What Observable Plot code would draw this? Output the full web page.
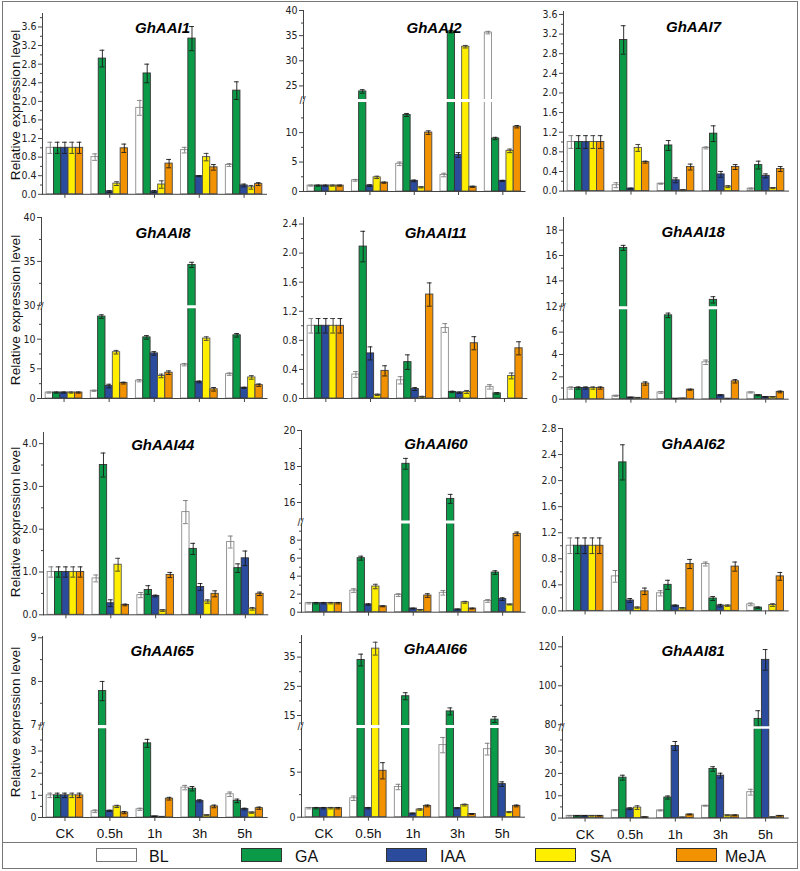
<!DOCTYPE html>
<html>
<head>
<meta charset="utf-8">
<script src="https://cdn.jsdelivr.net/npm/d3@7"></script>
<script src="https://cdn.jsdelivr.net/npm/@observablehq/plot@0.6"></script>
<style>
html, body { margin: 0; padding: 0; background: #fff; }
#fig { position: relative; width: 800px; height: 871px; overflow: hidden; background: #fff; font-family: "Liberation Sans", Arial, sans-serif; }
.panel { position: absolute; }
.panel svg { overflow: visible; }
#overlay { position: absolute; left: 0; top: 0; pointer-events: none; }
</style>
</head>
<body>
<div id="fig"></div>
<script>
// ---------------- data ----------------
const groups = ["CK", "0.5h", "1h", "3h", "5h"];
const treatments = ["BL", "GA", "IAA", "SA", "MeJA"];
const yLabel = "Relative expression level";

// mean[groupIndex] = [BL, GA, IAA, SA, MeJA]
const aai1Mean = [[1,1,1,1,1],[0.80,2.92,0.06,0.23,0.99],[1.86,2.60,0.06,0.21,0.66],[0.95,3.35,0.39,0.80,0.58],[0.63,2.23,0.19,0.15,0.22]];
const aai1Err  = [[0.12,0.12,0.12,0.12,0.12],[0.07,0.18,0.02,0.04,0.09],[0.16,0.20,0.02,0.08,0.09],[0.06,0.26,0.01,0.08,0.06],[0.03,0.19,0.03,0.04,0.03]];
const aai1Major = [0,0.4,0.8,1.2,1.6,2.0,2.4,2.8,3.2,3.6];
const aai1Minor = [0.2,0.6,1.0,1.4,1.8,2.2,2.6,3.0,3.4,3.8];

const aai2Mean = [[1,1,1,1,1],[1.9,23.9,1.0,2.4,1.5],[4.7,13.0,1.8,0.7,10.0],[2.8,35.8,6.2,32.8,0.8],[35.6,9.0,1.8,6.9,11.0]];
const aai2Err  = [[0.1,0.1,0.1,0.1,0.1],[0.15,0.35,0.15,0.2,0.1],[0.3,0.25,0.15,0.1,0.3],[0.3,0.25,0.4,0.25,0.1],[0.25,0.2,0.1,0.3,0.2]];
const aai2Major = [0,5,10,25,30,35,40];
const aai2Minor = [2.5,7.5,12.5,27.5,32.5,37.5];

const aai7Mean = [[1,1,1,1,1],[0.12,3.08,0.05,0.88,0.59],[0.15,0.93,0.22,0.02,0.49],[0.88,1.17,0.34,0.09,0.49],[0.05,0.53,0.31,0.06,0.45]];
const aai7Err  = [[0.13,0.13,0.13,0.13,0.13],[0.05,0.29,0.01,0.07,0.02],[0.01,0.10,0.05,0.01,0.06],[0.02,0.16,0.06,0.02,0.05],[0.01,0.08,0.04,0.01,0.05]];
const aai7Major = [0,0.4,0.8,1.2,1.6,2.0,2.4,2.8,3.2,3.6];
const aai7Minor = [0.2,0.6,1.0,1.4,1.8,2.2,2.6,3.0,3.4];

const aai8Mean = [[1,1,1,1,1],[1.3,13.8,2.1,7.8,2.6],[3.0,10.3,7.6,3.8,4.35],[5.7,34.6,2.8,10.1,1.55],[4.1,10.65,1.8,3.55,2.25]];
const aai8Err  = [[0.1,0.1,0.1,0.1,0.1],[0.1,0.3,0.3,0.3,0.15],[0.2,0.3,0.3,0.3,0.3],[0.2,0.3,0.15,0.3,0.3],[0.2,0.3,0.1,0.3,0.2]];
const aai8Major = [0,5,10,30,35,40];
const aai8Minor = [2.5,7.5,12.5,32.5,37.5];

const aai11Mean = [[1,1,1,1,1],[0.33,2.09,0.62,0.05,0.38],[0.25,0.50,0.13,0.02,1.43],[0.97,0.09,0.08,0.09,0.76],[0.16,0.07,0,0.31,0.69]];
const aai11Err  = [[0.1,0.1,0.1,0.1,0.1],[0.04,0.21,0.09,0.01,0.07],[0.05,0.10,0.02,0.01,0.16],[0.06,0.01,0.01,0.02,0.09],[0.03,0.01,0,0.04,0.09]];
const aai11Major = [0,0.4,0.8,1.2,1.6,2.0,2.4];
const aai11Minor = [0.2,0.6,1.0,1.4,1.8,2.2];

const aai18Mean = [[1,1,1,1,1],[0.3,16.6,0.15,0.12,1.4],[0.6,7.5,0.05,0.07,0.85],[3.3,12.5,0.35,0.05,1.6],[0.6,0.35,0.2,0.2,0.65]];
const aai18Err  = [[0.1,0.1,0.1,0.1,0.1],[0.05,0.2,0.02,0.02,0.15],[0.08,0.2,0.01,0.01,0.05],[0.2,0.25,0.05,0.01,0.15],[0.05,0.05,0.03,0.02,0.08]];
const aai18Major = [0,2,4,6,12,14,16,18];
const aai18Minor = [1,3,5,7,13,15,17];

const aai44Mean = [[1,1,1,1,1],[0.85,3.5,0.27,1.17,0.23],[0.46,0.58,0.44,0.1,0.93],[2.4,1.54,0.65,0.31,0.49],[1.7,1.09,1.32,0.14,0.49]];
const aai44Err  = [[0.12,0.12,0.12,0.12,0.12],[0.08,0.28,0.08,0.15,0.02],[0.06,0.1,0.02,0.02,0.06],[0.27,0.13,0.08,0.04,0.07],[0.14,0.1,0.17,0.03,0.04]];
const aai44Major = [0,1,2,3,4];
const aai44Minor = [0.5,1.5,2.5,3.5];

const aai60Mean = [[1,1,1,1,1],[2.4,6.0,0.85,2.85,0.65],[1.9,18.15,0.4,0.25,1.85],[2.15,16.2,0.3,1.1,0.4],[1.25,4.4,1.45,0.85,8.7]];
const aai60Err  = [[0.08,0.08,0.08,0.08,0.08],[0.2,0.22,0.08,0.25,0.05],[0.15,0.3,0.05,0.03,0.2],[0.25,0.25,0.05,0.1,0.05],[0.15,0.2,0.15,0.05,0.2]];
const aai60Major = [0,2,4,6,8,16,18,20];
const aai60Minor = [1,3,5,7,9,17,19];

const aai62Mean = [[1,1,1,1,1],[0.53,2.28,0.16,0.05,0.30],[0.27,0.40,0.08,0.04,0.72],[0.72,0.19,0.08,0.08,0.68],[0.10,0.05,0,0.09,0.53]];
const aai62Err  = [[0.12,0.12,0.12,0.12,0.12],[0.09,0.27,0.03,0.01,0.05],[0.04,0.07,0.01,0.01,0.07],[0.03,0.03,0.02,0.01,0.07],[0.02,0.01,0,0.02,0.06]];
const aai62Major = [0,0.4,0.8,1.2,1.6,2.0,2.4,2.8];
const aai62Minor = [0.2,0.6,1.0,1.4,1.8,2.2,2.6];

const aai65Mean = [[1,1,1,1,1],[0.28,7.78,0.3,0.5,0.22],[0.37,3.35,0.05,0.03,0.85],[1.35,1.3,0.75,0.1,0.5],[1.05,0.75,0.38,0.22,0.42]];
const aai65Err  = [[0.1,0.1,0.1,0.1,0.1],[0.06,0.22,0.03,0.05,0.05],[0.05,0.18,0.01,0.01,0.06],[0.1,0.1,0.05,0.02,0.06],[0.1,0.08,0.04,0.03,0.05]];
const aai65Major = [0,1,2,3,7,8,9];
const aai65Minor = [0.5,1.5,2.5,3.5,7.5,8.5];

const aai66Mean = [[1,1,1,1,1],[2.1,34.0,1.0,37.9,5.15],[3.35,21.6,0.4,0.85,1.25],[8.0,16.4,1.0,1.35,0.35],[7.55,13.6,3.67,0.55,1.25]];
const aai66Err  = [[0.08,0.08,0.08,0.08,0.08],[0.25,2.0,0.08,2.2,0.9],[0.3,1.2,0.05,0.08,0.1],[0.85,1.2,0.05,0.1,0.05],[0.65,1.0,0.25,0.05,0.1]];
const aai66Major = [0,5,15,25,35];
const aai66Minor = [2.5,7.5,20,30,40];

const aai81Mean = [[1,1,1,1,1],[3.5,18.1,4.2,4.7,0.4],[3.4,9.2,32.3,0.3,1.6],[5.5,22.0,19.0,1.2,1.2],[11.6,83.0,113.3,0.4,1.0]];
const aai81Err  = [[0.1,0.1,0.1,0.1,0.1],[0.2,1.1,0.4,0.8,0.1],[0.2,0.7,2.0,0.1,0.2],[0.2,1.0,1.1,0.2,0.2],[1.3,4.2,5.3,0.1,0.1]];
const aai81Major = [0,10,20,30,80,100,120];
const aai81Minor = [5,15,25,35,90,110];

// ---------------- style / layout ----------------
const fills   = ["#ffffff", "#0b9a47", "#2b4c9c", "#ffee00", "#f39200"];
const strokes = ["#8c8c8c", "#333333", "#333333", "#555555", "#444444"];
const ebStroke = ["#777777", "#1a1a1a", "#1a1a1a", "#333333", "#1a1a1a"];
const axisColor = "#444";
const narrow = "'Liberation Sans Narrow', 'Arial Narrow', 'DejaVu Sans Condensed', sans-serif";
const regular = "'Liberation Sans', Arial, sans-serif";

const panels = [
  {title:"GhAAI1",  mean:aai1Mean,  err:aai1Err,  major:aai1Major,  minor:aai1Minor,  fmt:".1f", ax:42,    right:266, dom:[0,3.89], pix:[193.3,12.5], tx:162, ty:21.5},
  {title:"GhAAI2",  mean:aai2Mean,  err:aai2Err,  major:aai2Major,  minor:aai2Minor,  fmt:"d",   ax:302.5, right:524, dom:[0,15.2,22.4,40], pix:[191,101.5,98.5,10], tx:433, ty:21.5},
  {title:"GhAAI7",  mean:aai7Mean,  err:aai7Err,  major:aai7Major,  minor:aai7Minor,  fmt:".1f", ax:563,   right:788, dom:[0,3.66], pix:[191,11.4], tx:693, ty:21.5},
  {title:"GhAAI8",  mean:aai8Mean,  err:aai8Err,  major:aai8Major,  minor:aai8Minor,  fmt:"d",   ax:40.5,  right:266, dom:[0,15.2,30,40], pix:[397.7,307.5,304.5,216.7], tx:162, ty:226.5},
  {title:"GhAAI11", mean:aai11Mean, err:aai11Err, major:aai11Major, minor:aai11Minor, fmt:".1f", ax:302.7, right:526, dom:[0,2.49], pix:[397.7,216.7], tx:435, ty:226.5},
  {title:"GhAAI18", mean:aai18Mean, err:aai18Err, major:aai18Major, minor:aai18Minor, fmt:"d",   ax:563.3, right:788, dom:[0,8.05,12,19], pix:[399,309,306,217.3], tx:693, ty:226.5},
  {title:"GhAAI44", mean:aai44Mean, err:aai44Err, major:aai44Major, minor:aai44Minor, fmt:".1f", ax:42.7,  right:267, dom:[0,4.26], pix:[614,431.7], tx:162, ty:439},
  {title:"GhAAI60", mean:aai60Mean, err:aai60Err, major:aai60Major, minor:aai60Minor, fmt:"d",   ax:300.5, right:524, dom:[0,9.85,15,20], pix:[611.7,523,520,430], tx:435, ty:437.5},
  {title:"GhAAI62", mean:aai62Mean, err:aai62Err, major:aai62Major, minor:aai62Minor, fmt:".1f", ax:562.3, right:788, dom:[0,2.8], pix:[610.7,428.3], tx:693, ty:438.5},
  {title:"GhAAI65", mean:aai65Mean, err:aai65Err, major:aai65Major, minor:aai65Minor, fmt:"d",   ax:42.3,  right:267, dom:[0,4.03,7,9.03], pix:[816.7,727.5,724.3,635.7], tx:162, ty:644.5, bottom:true},
  {title:"GhAAI66", mean:aai66Mean, err:aai66Err, major:aai66Major, minor:aai66Minor, fmt:"d",   ax:301,   right:524, dom:[0,9.9,11.75,42.4], pix:[816.7,727.5,724.5,635], tx:435, ty:642.5, bottom:true},
  {title:"GhAAI81", mean:aai81Mean, err:aai81Err, major:aai81Major, minor:aai81Minor, fmt:"d",   ax:562.3, right:788, dom:[0,40,79.2,125.3], pix:[817.3,728,725.5,635.7], tx:693, ty:644.5, bottom:true}
];

const fig = document.getElementById("fig");

function addPanel(p) {
  const mL = 40, mR = 6, mT = 12, mB = p.bottom ? 30 : 9;
  const top = p.pix[p.pix.length - 1], base = p.pix[0];
  const svgLeft = p.ax - mL, svgTop = top - mT;
  const W = p.right - p.ax + mL + mR;
  const H = base - top + mT + mB;
  const rows = [];
  groups.forEach((g, gi) => treatments.forEach((t, ti) =>
    rows.push({group: g, treatment: t, ti, value: p.mean[gi][ti], err: p.err[gi][ti]})));
  const pInner = 0.185, pOuter = 0.0925;
  const band = d3.scaleBand(groups, [0, p.right - p.ax]).paddingInner(pInner).paddingOuter(pOuter);
  const bw = band.bandwidth(), w = bw / 5, cap = 2.4;
  const marks = [];
  treatments.forEach((t, ti) => {
    const d = rows.filter(r => r.ti === ti && r.value > 0);
    marks.push(Plot.barY(d, {x: "group", y: "value", fill: fills[ti], stroke: strokes[ti], strokeWidth: 0.9,
      insetLeft: ti * w, insetRight: (4 - ti) * w}));
  });
  treatments.forEach((t, ti) => {
    const d = rows.filter(r => r.ti === ti && r.err > 0);
    const dx = (ti - 2) * w;
    const lo = r => Math.max(0, r.value - r.err), hi = r => r.value + r.err;
    const opts = {x: "group", dx, stroke: ebStroke[ti], strokeWidth: 0.9, insetLeft: bw / 2 - cap, insetRight: bw / 2 - cap};
    marks.push(Plot.ruleX(d, {x: "group", y1: lo, y2: hi, dx, stroke: ebStroke[ti], strokeWidth: 0.9}));
    marks.push(Plot.tickY(d, {...opts, y: hi}));
    marks.push(Plot.tickY(d, {...opts, y: lo}));
  });
  marks.push(Plot.frame({anchor: "left", stroke: axisColor}));
  marks.push(Plot.frame({anchor: "bottom", stroke: axisColor}));
  let mid = null;
  if (p.dom.length === 4) {
    mid = (p.dom[1] + p.dom[2]) / 2;
    const gap = p.pix[1] - p.pix[2];
    marks.push(Plot.ruleY([mid], {stroke: "white", strokeWidth: gap, insetLeft: -3, insetRight: -2}));
  }
  marks.push(Plot.axisY({ticks: p.major, tickFormat: d3.format(p.fmt), tickSize: 4, tickPadding: 2, label: null,
    stroke: axisColor, fill: "#222", fontSize: 10.5, fontFamily: narrow}));
  marks.push(Plot.axisY({ticks: p.minor, tickSize: 2, label: null, stroke: axisColor, fill: "none"}));
  if (p.bottom) {
    marks.push(Plot.axisX({tickSize: 4, tickPadding: 7, label: null, stroke: axisColor, fill: "#111",
      fontSize: 13.5, fontFamily: regular}));
  } else {
    marks.push(Plot.axisX({tickSize: 4, label: null, stroke: axisColor, fill: "none"}));
  }
  if (mid !== null) {
    marks.push(Plot.text([mid], {y: d => d, frameAnchor: "left", text: () => "//", fontSize: 11,
      fontFamily: regular, fill: "#333", textAnchor: "middle", dx: -1}));
  }
  marks.push(Plot.text([p.title], {frameAnchor: "top", dx: p.tx - (p.ax + p.right) / 2, dy: p.ty - top,
    fontSize: 15, fontWeight: "bold", fontStyle: "italic", fontFamily: regular, fill: "#000"}));

  const chart = Plot.plot({
    width: W, height: H,
    marginLeft: mL, marginRight: mR, marginTop: mT, marginBottom: mB,
    x: {domain: groups, paddingInner: pInner, paddingOuter: pOuter, round: false},
    y: {type: "linear", domain: p.dom, range: p.pix.map(v => v - svgTop)},
    style: {background: "transparent", fontFamily: narrow, fontSize: "10px", color: "#333", overflow: "visible"},
    marks
  });
  const div = document.createElement("div");
  div.className = "panel";
  div.style.left = svgLeft + "px";
  div.style.top = svgTop + "px";
  div.appendChild(chart);
  fig.appendChild(div);
}

panels.forEach(addPanel);

// ---------------- overlay: y labels, legend, frame ----------------
const rowCenters = [105, 310, 522, 722];
const legendBoxX = [96, 241, 386, 535, 676];
const legendTextX = [149, 295, 440, 590, 725];

const ov = d3.select(fig).append("svg").attr("id", "overlay").attr("width", 800).attr("height", 871);
ov.append("rect").attr("x", 2.5).attr("y", 1.5).attr("width", 795).attr("height", 867)
  .attr("fill", "none").attr("stroke", "#777").attr("stroke-width", 1);
ov.append("line").attr("x1", 2.5).attr("x2", 797.5).attr("y1", 842.5).attr("y2", 842.5)
  .attr("stroke", "#777").attr("stroke-width", 1);
rowCenters.forEach(cy => {
  ov.append("text").attr("transform", `translate(15,${cy}) rotate(-90)`)
    .attr("text-anchor", "middle").attr("dominant-baseline", "central")
    .attr("font-family", regular).attr("font-size", 13.6).attr("fill", "#111").text(yLabel);
});
treatments.forEach((t, ti) => {
  ov.append("rect").attr("x", legendBoxX[ti] + 0.5).attr("y", 848.5).attr("width", 40).attr("height", 13)
    .attr("fill", fills[ti]).attr("stroke", ti === 0 ? "#777" : "#333").attr("stroke-width", 1);
  ov.append("text").attr("x", legendTextX[ti]).attr("y", 861.5)
    .attr("font-family", regular).attr("font-size", 16).attr("fill", "#111").text(t);
});
</script>
</body>
</html>
